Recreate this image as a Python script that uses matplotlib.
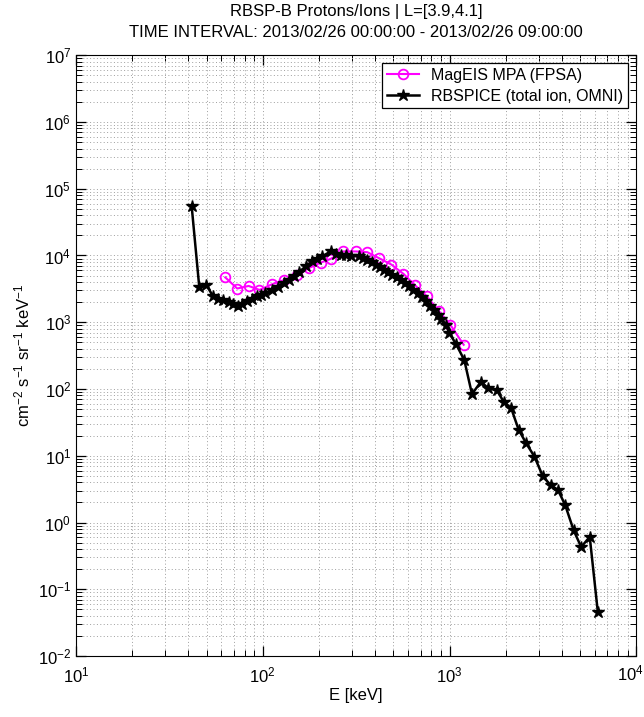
import matplotlib
matplotlib.use("Agg")
import matplotlib.pyplot as plt
from matplotlib.ticker import LogLocator, LogFormatterMathtext, NullFormatter, FuncFormatter

plt.rcParams['font.family'] = ['Liberation Sans', 'DejaVu Sans']
plt.rcParams['mathtext.default'] = 'regular'

# MagEIS MPA (FPSA) spectrum
mageis_e = [63, 73, 84, 96, 112, 130, 153, 177, 204, 231, 270, 315, 363,
            420, 489, 567, 652, 756, 881, 1009, 1191]
mageis_f = [4.7e3, 3.2e3, 3.5e3, 3.05e3, 3.7e3, 4.3e3, 5.1e3, 6.5e3, 7.8e3, 8.9e3,
            1.15e4, 1.15e4, 1.12e4, 9.1e3, 7.3e3, 5.3e3, 3.6e3, 2.45e3, 1.45e3,
            9.2e2, 4.6e2]

# RBSPICE total ion, OMNI
rbspice_e = [41.6, 45.7, 49.9, 54.2, 57.5, 61.1, 65.8, 69.7, 73.6, 77.9, 82.4, 87.5,
             93.3, 98.4, 103, 112, 121, 130, 138, 147, 157, 170, 184, 196, 208, 231,
             246, 261, 278, 296, 328, 345, 363, 383, 402, 423, 446, 470, 495, 522,
             548, 576, 608, 640, 674, 711, 747, 785, 828, 866, 899, 957, 996, 1082,
             1200, 1319, 1475, 1608, 1796, 1946, 2138, 2346, 2573, 2851, 3162, 3475,
             3805, 4160, 4624, 5070, 5634, 6223]
rbspice_f = [5.6e4, 3.4e3, 3.6e3, 2.45e3, 2.25e3, 2.14e3, 2.03e3, 1.86e3, 1.74e3,
             1.89e3, 2.05e3, 2.21e3, 2.44e3, 2.57e3, 2.72e3, 3.07e3, 3.4e3, 3.87e3,
             4.34e3, 4.86e3, 5.72e3, 6.87e3, 8.16e3, 8.96e3, 9.7e3, 1.15e4, 1.06e4,
             1.03e4, 1.01e4, 9.9e3, 9.7e3, 9.3e3, 8.65e3, 7.9e3, 7.3e3, 6.7e3, 6.1e3,
             5.6e3, 5.15e3, 4.7e3, 4.34e3, 3.87e3, 3.44e3, 3.07e3, 2.74e3, 2.37e3,
             2.05e3, 1.77e3, 1.54e3, 1.29e3, 1.13e3, 916, 689, 476, 271, 84, 129,
             103, 95, 65, 51.8, 24.5, 15.4, 9.7, 4.9, 3.66, 3.08, 1.84, 0.76, 0.43,
             0.61, 0.046]

x_min, x_max = 10, 1e4

fig = plt.figure(figsize=(6.44, 7.17), dpi=100)
ax = fig.add_axes([0.118, 0.085, 0.870, 0.838])

ax.plot(mageis_e, mageis_f, color='magenta', lw=1.5, marker='o', ms=7,
        mfc='none', mec='magenta', mew=1.3, label='MagEIS MPA (FPSA)', zorder=3)
ax.plot(rbspice_e, rbspice_f, color='black', lw=1.8, marker='*', ms=9,
        label='RBSPICE (total ion, OMNI)', zorder=4)

ax.set_xscale('log')
ax.set_yscale('log')
ax.set_xlim(x_min, x_max)
ax.set_ylim(1e-2, 1e7)

mathfmt = LogFormatterMathtext()
ax.xaxis.set_major_locator(LogLocator(base=10, numticks=10))
ax.yaxis.set_major_locator(LogLocator(base=10, numticks=12))
ax.xaxis.set_minor_locator(LogLocator(base=10, subs=range(2, 10), numticks=20))
ax.yaxis.set_minor_locator(LogLocator(base=10, subs=range(2, 10), numticks=20))
# last x label is drawn separately so it stays inside the figure
ax.xaxis.set_major_formatter(FuncFormatter(lambda v, p: '' if v >= x_max else mathfmt(v, p)))
ax.yaxis.set_major_formatter(mathfmt)
ax.xaxis.set_minor_formatter(NullFormatter())
ax.yaxis.set_minor_formatter(NullFormatter())

ax.grid(True, which='both', linestyle=(0, (1, 2.5)), color='0.62', linewidth=0.7)
ax.tick_params(which='both', direction='in', top=True, right=True, labelsize=12)
ax.tick_params(which='major', length=7, width=0.9)
ax.tick_params(which='minor', length=4, width=0.7)
ax.tick_params(axis='x', pad=7)

ax.annotate(mathfmt(x_max), xy=(x_max, 0), xycoords=('data', 'axes fraction'),
            xytext=(-6, -7), textcoords='offset pixels', ha='center', va='top',
            fontsize=12, annotation_clip=False)

ax.set_xlabel('E [keV]', fontsize=12, labelpad=2)
ax.set_ylabel('cm$^{-2}$ s$^{-1}$ sr$^{-1}$ keV$^{-1}$', fontsize=12)
ax.set_title('RBSP-B Protons/Ions | L=[3.9,4.1]\n'
             'TIME INTERVAL: 2013/02/26 00:00:00 - 2013/02/26 09:00:00',
             fontsize=12, pad=13, linespacing=1.5)

leg = ax.legend(loc='upper right', fontsize=11.5, fancybox=False, framealpha=1,
                edgecolor='black', handlelength=2.0, borderaxespad=0.5,
                borderpad=0.3, labelspacing=0.35)
leg.get_frame().set_linewidth(0.9)

fig.savefig('out.png', dpi=100)
